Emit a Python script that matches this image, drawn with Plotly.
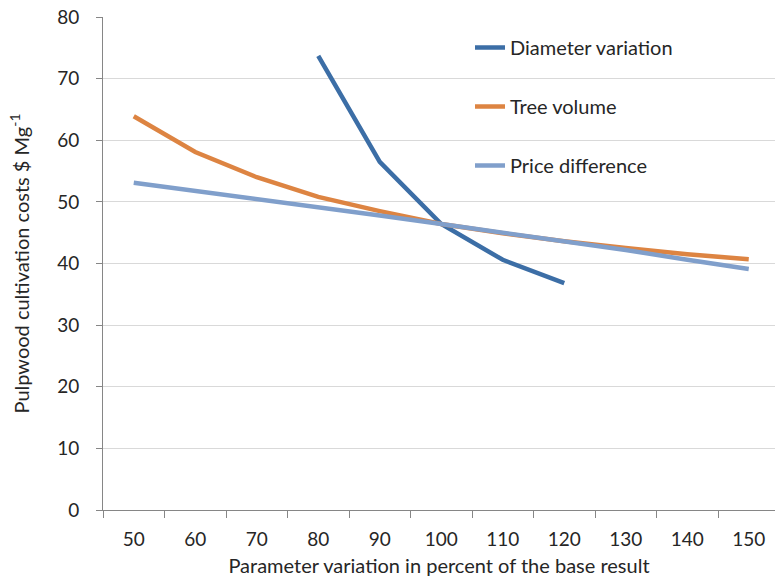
import plotly.graph_objects as go

categories = ["50", "60", "70", "80", "90", "100", "110", "120", "130", "140", "150"]
diameter_variation = [None, None, None, 73.7, 56.5, 46.4, 40.6, 36.8, None, None, None]
tree_volume = [63.9, 58.1, 54.0, 50.8, 48.5, 46.4, 44.9, 43.6, 42.5, 41.5, 40.7]
price_difference = [53.1, 51.8, 50.5, 49.2, 47.8, 46.4, 45.0, 43.6, 42.2, 40.6, 39.1]

FONT = "Lato"
TXT = "#262626"
AX = "#868686"

fig = go.Figure()
series = [
    ("Diameter variation", diameter_variation, "#3c6ea6"),
    ("Tree volume", tree_volume, "#dd8442"),
    ("Price difference", price_difference, "#809fcb"),
]
for i, (name, vals, col) in enumerate(series):
    fig.add_trace(go.Scatter(
        x=categories, y=vals, name=name, mode="lines",
        line=dict(color=col, width=4.5), legendgroup=f"g{i}",
        connectgaps=False,
    ))

fig.update_layout(
    width=775, height=581,
    margin=dict(l=103, r=0, t=17, b=71),
    paper_bgcolor="white", plot_bgcolor="white",
    font=dict(family=FONT, size=19, color=TXT),
    showlegend=True,
    legend=dict(
        x=(470 - 103) / 672, y=1 - (28 - 17) / 493, xanchor="left", yanchor="top",
        bgcolor="rgba(0,0,0,0)", font=dict(family=FONT, size=20, color=TXT),
        tracegroupgap=30, traceorder="grouped", itemwidth=30,
    ),
    xaxis=dict(
        type="category", range=[-0.5, 10.5 - 4.5 / 61.47],
        tickson="boundaries", ticks="outside", ticklen=7, tickcolor=AX,
        showline=True, linecolor=AX, linewidth=1,
        showgrid=False, zeroline=False,
        tickfont=dict(family=FONT, size=19, color=TXT),
        ticklabelstandoff=12,
        title=dict(text="Parameter variation in percent of the base result",
                   font=dict(family=FONT, size=20, color=TXT), standoff=10),
    ),
    yaxis=dict(
        range=[0, 80], dtick=10, tick0=0,
        ticks="outside", ticklen=6, tickcolor=AX,
        showline=True, linecolor=AX, linewidth=1,
        showgrid=True, gridcolor="#d9d9d9", gridwidth=1,
        zeroline=False,
        tickfont=dict(family=FONT, size=19, color=TXT),
        ticklabelstandoff=13,
        title=dict(text="Pulpwood cultivation costs $ Mg<sup>-1</sup>",
                   font=dict(family=FONT, size=20, color=TXT), standoff=22),
    ),
)

fig.write_html("out.html")
